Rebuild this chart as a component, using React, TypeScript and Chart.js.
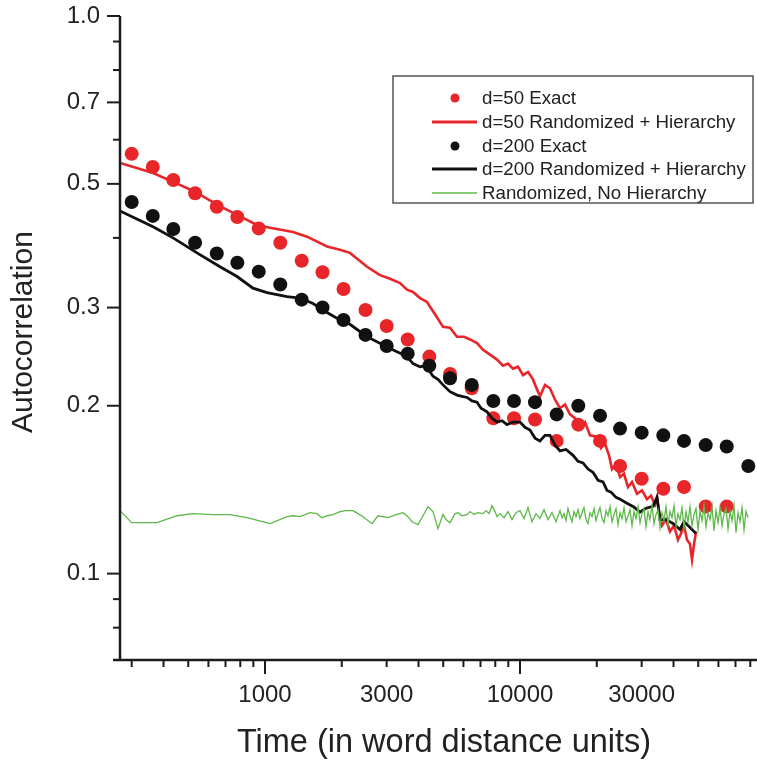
import React, { useEffect, useRef } from 'react';
import { Chart, registerables } from 'chart.js';

Chart.register(...registerables);

// ---- data ----
const exactX = [300, 363, 437, 532, 647, 779, 945, 1148, 1393, 1681, 2032, 2478, 3000, 3627, 4410, 5315, 6467, 7859, 9473, 11452, 13930, 16930, 20600, 24680, 30000, 36480, 43970, 53480, 64660, 78590];
const d50ExactY = [0.566, 0.536, 0.508, 0.481, 0.455, 0.436, 0.416, 0.392, 0.364, 0.347, 0.324, 0.297, 0.278, 0.263, 0.245, 0.228, 0.215, 0.190, 0.190, 0.189, 0.173, 0.185, 0.173, 0.156, 0.148, 0.142, 0.143, 0.132, 0.132];
const d200ExactY = [0.464, 0.438, 0.415, 0.392, 0.375, 0.361, 0.348, 0.330, 0.310, 0.300, 0.285, 0.268, 0.256, 0.248, 0.236, 0.224, 0.218, 0.204, 0.204, 0.203, 0.193, 0.200, 0.192, 0.182, 0.179, 0.177, 0.173, 0.170, 0.169, 0.156];

const d50LineX = [270, 364, 436, 532, 648, 777, 930, 1046, 1288, 1461, 1751, 1968, 2154, 2512, 2825, 3092, 3383, 3605, 3805, 4054, 4318, 4437, 4684, 4989, 5315, 5661, 6031, 6367, 6784, 7161, 7628, 8124, 8577, 8974, 9387, 9822, 10275, 10750, 11245, 11660, 11980, 12530, 13110, 13720, 14350, 15010, 15710, 16430, 17190, 17980, 18820, 20040, 20780, 21540, 22340, 22950, 23800, 24680, 25570, 26510, 27500, 28760, 30090, 31480, 32640, 33830, 34460, 35090, 36050, 37380, 38740, 40170, 41650, 42800, 43970, 45170, 46420, 47270, 48140, 49020];
const d50LineY = [0.545, 0.523, 0.504, 0.484, 0.459, 0.440, 0.422, 0.417, 0.410, 0.402, 0.386, 0.381, 0.376, 0.355, 0.343, 0.338, 0.332, 0.323, 0.320, 0.312, 0.307, 0.301, 0.290, 0.277, 0.276, 0.266, 0.266, 0.263, 0.259, 0.252, 0.247, 0.242, 0.236, 0.238, 0.233, 0.235, 0.227, 0.230, 0.223, 0.214, 0.208, 0.218, 0.215, 0.205, 0.198, 0.201, 0.193, 0.190, 0.183, 0.187, 0.177, 0.176, 0.168, 0.171, 0.163, 0.154, 0.157, 0.149, 0.151, 0.143, 0.146, 0.139, 0.141, 0.136, 0.138, 0.133, 0.137, 0.129, 0.122, 0.125, 0.119, 0.122, 0.115, 0.118, 0.122, 0.115, 0.113, 0.106, 0.113, 0.119];

const d200LineX = [270, 364, 436, 541, 666, 777, 897, 1018, 1220, 1372, 1543, 1751, 1968, 2154, 2512, 2825, 3009, 3293, 3605, 3805, 4054, 4279, 4558, 4768, 4989, 5315, 5661, 5922, 6198, 6484, 6784, 7034, 7424, 7765, 8124, 8500, 8892, 9387, 10000, 10460, 10940, 11450, 11980, 12530, 13110, 13720, 14350, 15150, 16140, 16890, 17660, 18480, 19330, 20230, 21160, 21940, 22750, 23800, 24680, 26040, 27740, 29560, 31200, 33240, 34460, 35400, 37380, 39810, 42420, 43970, 45590, 47270, 49020];
const d200LineY = [0.447, 0.419, 0.400, 0.376, 0.355, 0.341, 0.325, 0.319, 0.314, 0.312, 0.305, 0.294, 0.285, 0.280, 0.266, 0.259, 0.255, 0.250, 0.245, 0.238, 0.235, 0.236, 0.226, 0.223, 0.218, 0.212, 0.209, 0.208, 0.207, 0.204, 0.203, 0.198, 0.195, 0.190, 0.187, 0.188, 0.185, 0.187, 0.187, 0.183, 0.181, 0.175, 0.173, 0.177, 0.177, 0.170, 0.166, 0.167, 0.163, 0.159, 0.158, 0.154, 0.152, 0.147, 0.146, 0.141, 0.140, 0.137, 0.136, 0.134, 0.132, 0.129, 0.131, 0.132, 0.137, 0.125, 0.125, 0.123, 0.120, 0.124, 0.122, 0.120, 0.118];

const noHierX = [
  270, 300, 377, 452, 522, 626, 729, 850, 1046, 1220,
  1288, 1372, 1502, 1599, 1673, 1751, 1848, 1968, 2078, 2214,
  2316, 2423, 2628, 2774, 3037, 3264, 3477, 3637, 3771, 3981,
  4165, 4357, 4558, 4768, 4989, 5128, 5315, 5561, 5713, 5922,
  6198, 6367, 6601, 6844, 7161, 7357, 7558, 7765, 7980, 8124,
  8348, 8655, 8974, 9304, 9646, 10000, 10368, 10749, 11145, 11555,
  11980, 12420, 12877, 13351, 13842,
  14351, 14613, 14879, 15150, 15426, 15706, 15993, 16284, 16582, 16883,
  17191, 17504, 17824, 18148, 18479, 18816, 19159, 19507, 19863, 20224,
  20594, 20968, 21351, 21740, 22137, 22539, 22951, 23368, 23795, 24228,
  24670, 25119, 25578, 26043, 26518, 27001, 27494, 27994, 28505, 29024,
  29554, 30092, 30641, 31199, 31768, 32346, 32936, 33536, 34148, 34770,
  35404, 36049, 36706, 37375, 38056, 38750, 39456, 40175, 40907, 41653,
  42412, 43185, 43972, 44774, 45589, 46420, 47266, 48128, 49005, 49898,
  50807, 51733, 52676, 53636, 54614, 55609, 56623, 57655, 58706, 59776,
  60865, 61975, 63104, 64254, 65425, 66618, 67832, 69068, 70327, 71609,
  72914, 74243, 75596, 76974, 78377,
];
const noHierY = [
  0.1297, 0.1234, 0.1234, 0.1270, 0.1281, 0.1276, 0.1276, 0.1260, 0.1229, 0.1265,
  0.1270, 0.1265, 0.1286, 0.1281, 0.1260, 0.1270, 0.1276, 0.1292, 0.1297, 0.1297,
  0.1281, 0.1265, 0.1229, 0.1270, 0.1260, 0.1276, 0.1286, 0.1265, 0.1239, 0.1224,
  0.1270, 0.1318, 0.1292, 0.1204, 0.1276, 0.1250, 0.1234, 0.1281, 0.1286, 0.1270,
  0.1276, 0.1292, 0.1276, 0.1286, 0.1281, 0.1297, 0.1281, 0.1324, 0.1292, 0.1265,
  0.1281, 0.1260, 0.1292, 0.1250, 0.1286, 0.1297, 0.1255, 0.1313, 0.1239, 0.1281,
  0.1255, 0.1302, 0.1250, 0.1286, 0.1239,
  0.1297, 0.1260, 0.1281, 0.1245, 0.1308, 0.1270, 0.1239, 0.1292, 0.1265, 0.1302,
  0.1255, 0.1286, 0.1313, 0.1250, 0.1229, 0.1286, 0.1265, 0.1308, 0.1245, 0.1281,
  0.1313, 0.1255, 0.1234, 0.1297, 0.1270, 0.1318, 0.1239, 0.1276, 0.1308, 0.1224,
  0.1286, 0.1255, 0.1313, 0.1239, 0.1270, 0.1302, 0.1219, 0.1292, 0.1255, 0.1318,
  0.1234, 0.1281, 0.1308, 0.1214, 0.1292, 0.1250, 0.1324, 0.1229, 0.1276, 0.1302,
  0.1209, 0.1286, 0.1245, 0.1318, 0.1224, 0.1292, 0.1260, 0.1324, 0.1214, 0.1281,
  0.1250, 0.1313, 0.1204, 0.1292, 0.1239, 0.1318, 0.1219, 0.1276, 0.1308, 0.1199,
  0.1292, 0.1245, 0.1324, 0.1214, 0.1286, 0.1250, 0.1318, 0.1194, 0.1297, 0.1234,
  0.1313, 0.1219, 0.1281, 0.1308, 0.1204, 0.1292, 0.1245, 0.1324, 0.1184, 0.1286,
  0.1239, 0.1313, 0.1199, 0.1292, 0.1260,
];

const seriesLabels = ['d=50 Exact', 'd=50 Randomized + Hierarchy', 'd=200 Exact', 'd=200 Randomized + Hierarchy', 'Randomized, No Hierarchy'];
const xAxisTitle = 'Time (in word distance units)';
const yAxisTitle = 'Autocorrelation';

const xTickValues = [300, 400, 500, 600, 700, 800, 900, 1000, 2000, 3000, 4000, 5000, 6000, 7000, 8000, 9000, 10000, 20000, 30000, 40000, 50000, 60000, 70000, 80000];
const xTickLabels: Record<string, string> = { '1000': '1000', '3000': '3000', '10000': '10000', '30000': '30000' };
const xMajorTicks = [1000, 10000];
const yTickValues = [0.08, 0.09, 0.1, 0.2, 0.3, 0.4, 0.5, 0.6, 0.7, 0.8, 0.9, 1];
const yTickLabels: Record<string, string> = { '0.1': '0.1', '0.2': '0.2', '0.3': '0.3', '0.5': '0.5', '0.7': '0.7', '1': '1.0' };

const X_MIN = 270;
const X_MAX = 85000;
const Y_MIN = 0.07;
const Y_MAX = 1.0;

const RED = '#E8262A';
const BLACK = '#111111';
const GREEN = '#5DB849';
const AXIS = '#1c1c1c';
const TEXT = '#222222';
const FONT = "'Liberation Sans', Arial, Helvetica, sans-serif";

const toPts = (xs: number[], ys: number[]) => ys.map((y, i) => ({ x: xs[i], y }));

const zeroPad = (scale: any) => {
  scale.paddingTop = 0;
  scale.paddingBottom = 0;
  scale.paddingLeft = 0;
  scale.paddingRight = 0;
};

const decorPlugin = {
  id: 'decor',
  afterDraw(chart: any) {
    const ctx = chart.ctx as CanvasRenderingContext2D;
    const xs = chart.scales.x;
    const ys = chart.scales.y;
    const ca = chart.chartArea;
    ctx.save();
    ctx.strokeStyle = AXIS;
    ctx.lineCap = 'butt';
    // axis lines
    ctx.lineWidth = 2.5;
    ctx.beginPath();
    ctx.moveTo(ca.left, ys.getPixelForValue(Y_MAX));
    ctx.lineTo(ca.left, ca.bottom);
    ctx.stroke();
    ctx.beginPath();
    ctx.moveTo(ca.left - 7, ca.bottom);
    ctx.lineTo(ca.right, ca.bottom);
    ctx.stroke();
    // y tick marks
    ctx.lineWidth = 2;
    for (const v of yTickValues) {
      const y = ys.getPixelForValue(v);
      const len = yTickLabels[String(v)] ? 13 : 7;
      ctx.beginPath();
      ctx.moveTo(ca.left - len, y);
      ctx.lineTo(ca.left, y);
      ctx.stroke();
    }
    // x tick marks
    for (const v of xTickValues) {
      const x = xs.getPixelForValue(v);
      const len = xMajorTicks.includes(v) ? 14 : 7;
      ctx.beginPath();
      ctx.moveTo(x, ca.bottom);
      ctx.lineTo(x, ca.bottom + len);
      ctx.stroke();
    }
    // axis titles
    ctx.fillStyle = TEXT;
    ctx.font = `32.5px ${FONT}`;
    ctx.textAlign = 'center';
    ctx.textBaseline = 'alphabetic';
    ctx.fillText(xAxisTitle, 444, 752);
    ctx.save();
    ctx.translate(24, 332);
    ctx.rotate(-Math.PI / 2);
    ctx.font = `30px ${FONT}`;
    ctx.textBaseline = 'middle';
    ctx.fillText(yAxisTitle, 0, 0);
    ctx.restore();
    // legend
    const bx = 393, by = 76, bw = 360, bh = 127;
    ctx.fillStyle = '#ffffff';
    ctx.fillRect(bx, by, bw, bh);
    ctx.strokeStyle = '#555555';
    ctx.lineWidth = 1.5;
    ctx.strokeRect(bx, by, bw, bh);
    const rows = [98, 122, 146, 169, 193];
    const kinds = ['dot', 'line', 'dot', 'line', 'thin'];
    const colors = [RED, RED, BLACK, BLACK, GREEN];
    ctx.font = `18.7px ${FONT}`;
    ctx.textBaseline = 'middle';
    ctx.textAlign = 'left';
    chart.data.datasets.forEach((ds: any, i: number) => {
      const y = rows[i];
      if (kinds[i] === 'dot') {
        ctx.fillStyle = colors[i];
        ctx.beginPath();
        ctx.arc(455, y, 4.5, 0, Math.PI * 2);
        ctx.fill();
      } else {
        ctx.strokeStyle = colors[i];
        ctx.lineWidth = kinds[i] === 'thin' ? 1.3 : 3;
        ctx.beginPath();
        ctx.moveTo(432, y);
        ctx.lineTo(477, y);
        ctx.stroke();
      }
      ctx.fillStyle = TEXT;
      ctx.fillText(ds.label, 482, y + 1);
    });
    ctx.restore();
  },
};

export default function App() {
  const ref = useRef<HTMLCanvasElement | null>(null);
  useEffect(() => {
    if (!ref.current) return;
    const chart = new Chart(ref.current, {
      type: 'scatter',
      data: {
        datasets: [
          {
            label: seriesLabels[0],
            data: toPts(exactX, d50ExactY),
            showLine: false,
            pointRadius: 7,
            pointBackgroundColor: RED,
            pointBorderWidth: 0,
            borderColor: RED,
            backgroundColor: RED,
            order: 4,
          },
          {
            label: seriesLabels[1],
            data: toPts(d50LineX, d50LineY),
            showLine: true,
            pointRadius: 0,
            borderColor: RED,
            borderWidth: 2.6,
            tension: 0,
            order: 3,
          },
          {
            label: seriesLabels[2],
            data: toPts(exactX, d200ExactY),
            showLine: false,
            pointRadius: 7,
            pointBackgroundColor: BLACK,
            pointBorderWidth: 0,
            borderColor: BLACK,
            backgroundColor: BLACK,
            order: 2,
          },
          {
            label: seriesLabels[3],
            data: toPts(d200LineX, d200LineY),
            showLine: true,
            pointRadius: 0,
            borderColor: BLACK,
            borderWidth: 2.8,
            tension: 0,
            order: 1,
          },
          {
            label: seriesLabels[4],
            data: toPts(noHierX, noHierY),
            showLine: true,
            pointRadius: 0,
            borderColor: GREEN,
            borderWidth: 1.3,
            tension: 0,
            order: 0,
          },
        ] as any,
      },
      options: {
        animation: false,
        responsive: false,
        maintainAspectRatio: false,
        layout: { autoPadding: false, padding: { top: 16, right: 0, bottom: 0, left: 0 } },
        plugins: {
          legend: { display: false },
          tooltip: { enabled: false },
        },
        scales: {
          x: {
            type: 'logarithmic',
            min: X_MIN,
            max: X_MAX,
            grid: { display: false, drawTicks: false },
            border: { display: false },
            afterBuildTicks: (scale: any) => {
              scale.ticks = xTickValues.map((v) => ({ value: v }));
            },
            afterFit: (scale: any) => {
              scale.height = 100;
              zeroPad(scale);
            },
            ticks: {
              autoSkip: false,
              maxRotation: 0,
              minRotation: 0,
              padding: 21,
              color: TEXT,
              font: { family: FONT, size: 24 },
              callback: (value: any) => xTickLabels[String(value)] ?? '',
            },
            title: { display: false },
          },
          y: {
            type: 'logarithmic',
            min: Y_MIN,
            max: Y_MAX,
            grid: { display: false, drawTicks: false },
            border: { display: false },
            afterBuildTicks: (scale: any) => {
              scale.ticks = yTickValues.map((v) => ({ value: v }));
            },
            afterFit: (scale: any) => {
              scale.width = 120;
              zeroPad(scale);
            },
            ticks: {
              autoSkip: false,
              padding: 20,
              color: TEXT,
              font: { family: FONT, size: 24 },
              callback: (value: any) => yTickLabels[String(value)] ?? '',
            },
            title: { display: false },
          },
        },
      } as any,
      plugins: [decorPlugin],
    });
    return () => chart.destroy();
  }, []);

  return (
    <div style={{ position: 'absolute', left: 0, top: 0, width: 757, height: 760, background: '#ffffff' }}>
      <canvas ref={ref} width={757} height={760} style={{ display: 'block' }} />
    </div>
  );
}
